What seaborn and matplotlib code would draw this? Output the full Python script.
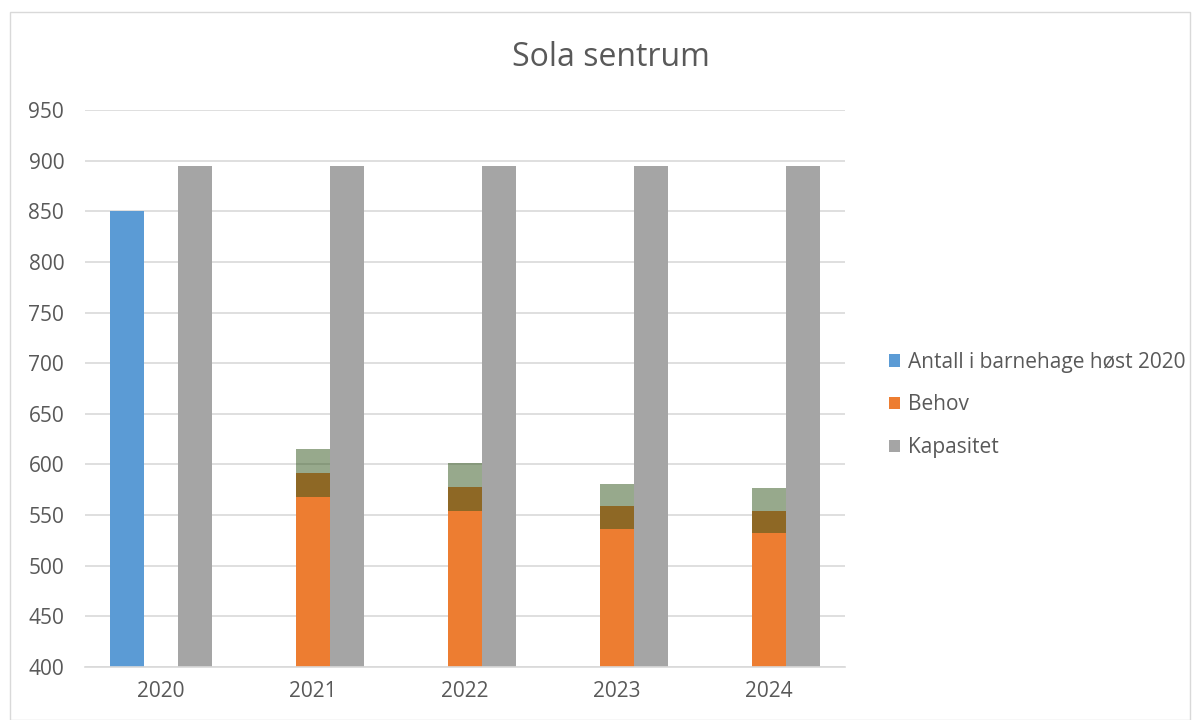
import matplotlib
matplotlib.use("Agg")
import matplotlib.pyplot as plt
import seaborn as sns
import pandas as pd
import numpy as np
from matplotlib.patches import Rectangle, Patch

years = ["2020", "2021", "2022", "2023", "2024"]
antall = [850, np.nan, np.nan, np.nan, np.nan]
behov = [np.nan, 592, 578, 559, 554]
behov_low = [np.nan, 568, 554, 536, 532]
behov_high = [np.nan, 615, 601, 581, 577]
kapasitet = [895, 895, 895, 895, 895]
series = ["Antall i barnehage høst 2020", "Behov", "Kapasitet"]
colors = ["#5B9BD5", "#ED7D31", "#A5A5A5"]

sns.set_theme(style="white")
plt.rcParams["font.family"] = ["Open Sans", "DejaVu Sans"]
text_color = "#595959"

rows = []
for i, y in enumerate(years):
    for s, vals in zip(series, [antall, behov, kapasitet]):
        rows.append({"year": y, "series": s, "value": vals[i]})
df = pd.DataFrame(rows)

fig = plt.figure(figsize=(12, 7.2), dpi=100)
ax = fig.add_axes([85/1200, 1-667/720, 760/1200, (667-110)/720])

sns.barplot(data=df, x="year", y="value", hue="series", hue_order=series,
            palette=colors, width=0.672, ax=ax, legend=False, saturation=1,
            edgecolor="none", linewidth=0)

# uncertainty band overlaying Behov bars
xs = np.arange(len(years))
lo = np.array(behov_low, dtype=float)
hi = np.array(behov_high, dtype=float)
ax.bar(xs, hi - lo, bottom=lo, width=0.224, color="#31551a", alpha=0.5,
       linewidth=0, zorder=3)

ax.set_ylim(400, 950)
ax.set_xlim(-0.5, 4.5)
ax.set_yticks(np.arange(400, 951, 50))
ax.yaxis.grid(True, color="#D9D9D9", linewidth=1.2)
ax.set_axisbelow(True)
for sp in ["top", "right", "left"]:
    ax.spines[sp].set_visible(False)
ax.spines["bottom"].set_color("#D9D9D9")
ax.spines["bottom"].set_linewidth(1.2)
ax.set_xlabel("")
ax.set_ylabel("")
ax.tick_params(axis="both", colors=text_color, labelsize=15, length=0)
ax.tick_params(axis="y", pad=15)
ax.tick_params(axis="x", pad=10)

fig.text(611/1200, 1-57/720, "Sola sentrum", ha="center", va="center",
         fontsize=23, color=text_color)

handles = [Patch(facecolor=c, edgecolor="none") for c in colors]
leg = fig.legend(handles, series, loc="center left",
                 bbox_to_anchor=(870/1200, 1-405/720), frameon=False,
                 fontsize=15, handlelength=0.55, handleheight=0.55,
                 handletextpad=0.35, labelspacing=1.05)
for t in leg.get_texts():
    t.set_color(text_color)

fig.patches.append(Rectangle((10/1200, 0), 1-20/1200, 1-12/720,
                             transform=fig.transFigure, fill=False,
                             edgecolor="#D9D9D9", linewidth=1))

fig.savefig("out.png", dpi=100, facecolor="white")
